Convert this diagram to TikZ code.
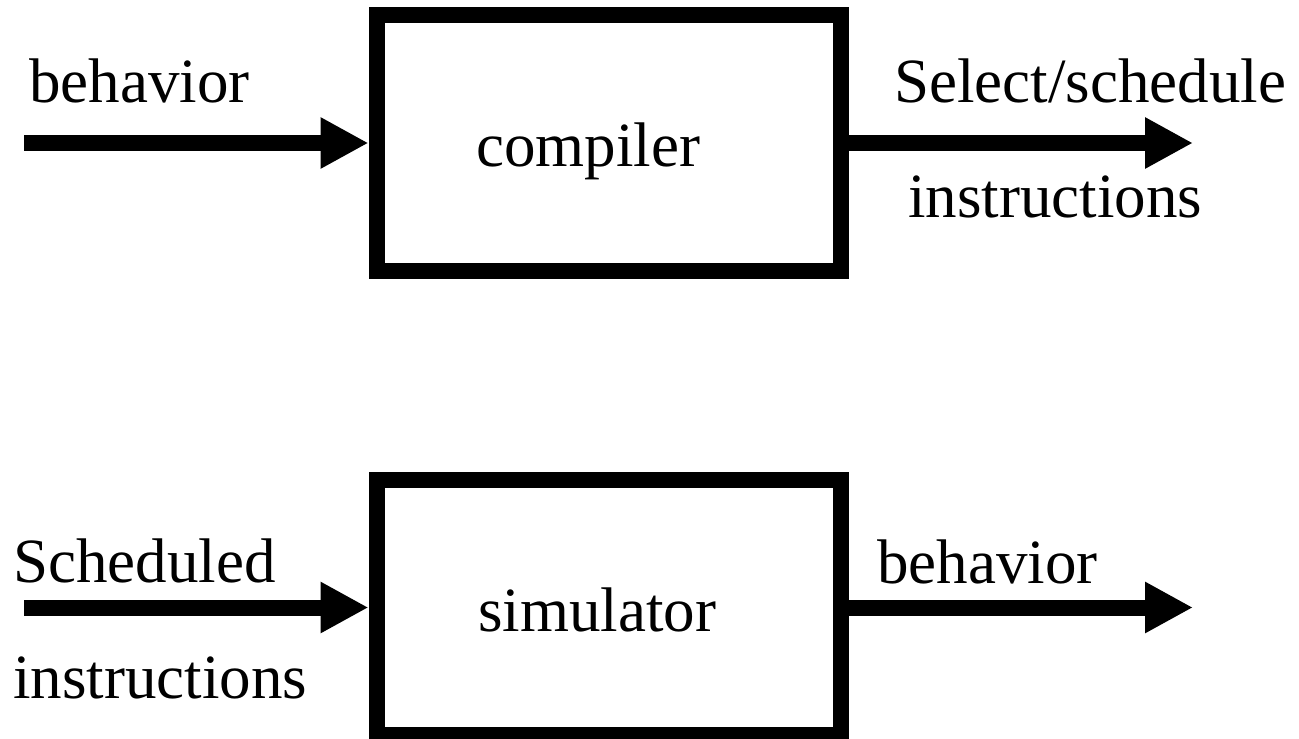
\documentclass[tikz,border=0pt]{standalone}
\usepackage{fontspec}
\setmainfont{Liberation Serif}
\usetikzlibrary{arrows.meta}
\tikzset{
  blockbox/.style={draw=black, line width=16pt, fill=white, inner sep=0pt, minimum width=464.5pt},
  lbl/.style={anchor=base west, inner sep=0pt, font=\fontsize{63}{75}\selectfont},
  flow/.style={line width=16pt, -{Triangle[length=48pt,width=48pt]}}
}
\begin{document}
\begin{tikzpicture}[x=1pt,y=-1pt]
\useasboundingbox (0,0) rectangle (1299,739);
% boxes
\node[blockbox, minimum height=256pt] (comp) at (608.75,143) {};
\node[blockbox, minimum height=255pt] (sim) at (608.75,607.5) {};
% labels
\node[lbl] (beh1) at (29,102) {behavior};
\node[lbl] (sel) at (894,102) {Select/schedule};
\node[lbl] (ins1) at (908,217) {instructions};
\node[lbl] (comptxt) at (476,166) {compiler};
\node[lbl] (sch) at (13,582) {Scheduled};
\node[lbl] (ins2) at (13,698) {instructions};
\node[lbl] (simtxt) at (478,631) {simulator};
\node[lbl] (beh2) at (877,583) {behavior};
% connector ends
\coordinate (in1) at (24,143);
\coordinate (out1) at (1193,143);
\coordinate (in2) at (24,607.5);
\coordinate (out2) at (1193,607.5);
% arrows
\draw[flow] (in1) -- (comp.west);
\draw[flow] (comp.east) -- (out1);
\draw[flow] (in2) -- (sim.west);
\draw[flow] (sim.east) -- (out2);
\end{tikzpicture}
\end{document}
